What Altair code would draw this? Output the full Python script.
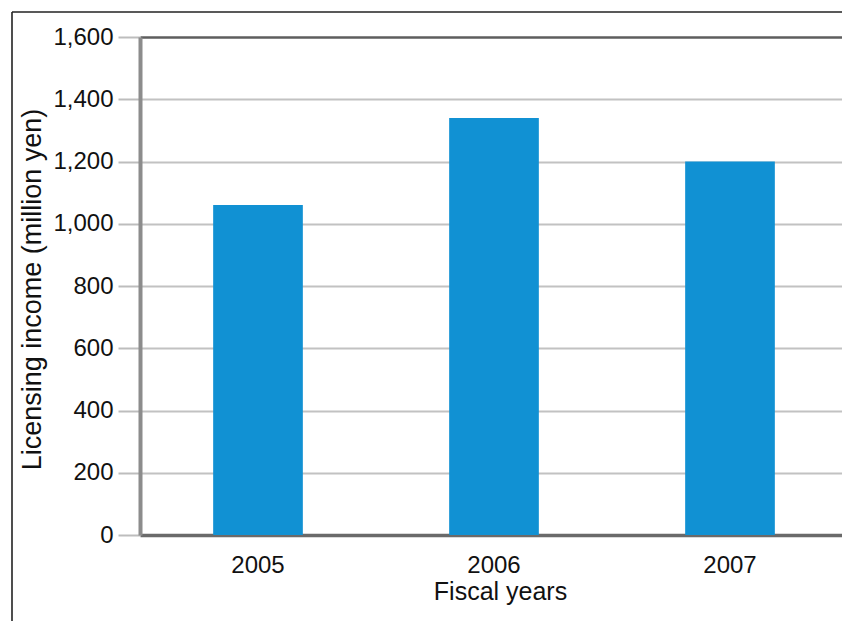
import altair as alt
import pandas as pd

# Licensing income by fiscal year (million yen)
years = ["2005", "2006", "2007"]
income = [1060, 1340, 1200]
y_ticks = [0, 200, 400, 600, 800, 1000, 1200, 1400, 1600]

df = pd.DataFrame({"year": years, "income": income})

FONT = "Liberation Sans"
BAR_BLUE = "#1191d3"

bars = alt.Chart(df).mark_bar(color=BAR_BLUE).encode(
    x=alt.X(
        "year:N",
        sort=years,
        scale=alt.Scale(paddingInner=0.62, paddingOuter=0.31),
        axis=alt.Axis(
            title="Fiscal years",
            labelAngle=0,
            labelFont=FONT,
            labelFontSize=24,
            labelColor="#111111",
            labelBaseline="alphabetic",
            labelPadding=37,
            ticks=False,
            tickSize=0,
            domainColor="#6a6a6a",
            domainWidth=3.5,
            grid=False,
            titleFont=FONT,
            titleFontSize=25,
            titleFontWeight="normal",
            titleColor="#111111",
            titleBaseline="alphabetic",
            titleX=360,
            titleY=64,
        ),
    ),
    y=alt.Y(
        "income:Q",
        scale=alt.Scale(domain=[0, 1600], nice=False),
        axis=alt.Axis(
            title="Licensing income (million yen)",
            values=y_ticks,
            format=",d",
            labelFont=FONT,
            labelFontSize=24,
            labelColor="#111111",
            labelPadding=5,
            tickSize=22,
            tickColor="#bdbdbd",
            tickWidth=2,
            domainColor="#8c8c8c",
            domainWidth=4,
            grid=True,
            gridColor=alt.condition("datum.value == 1600", alt.value("#5e5e5e"), alt.value("#c2c2c2")),
            gridWidth=alt.condition("datum.value == 1600", alt.value(2.5), alt.value(2)),
            titleFont=FONT,
            titleFontSize=27,
            titleFontWeight="normal",
            titleColor="#111111",
            titleAngle=-90,
            titleAlign="center",
            titleBaseline="alphabetic",
            titleX=-100,
            titleY=252,
        ),
    ),
)

# Outer frame: top and left edges of the figure box
frame_data = alt.Data(values=[{}])
frame_top = alt.Chart(frame_data).mark_rule(color="#222222", strokeWidth=1.6).encode(
    x=alt.value(-128), x2=alt.value(720), y=alt.value(-25)
)
frame_left = alt.Chart(frame_data).mark_rule(color="#222222", strokeWidth=1.6).encode(
    x=alt.value(-128), y=alt.value(-25), y2=alt.value(600)
)

# The plot area runs slightly past the right edge of the figure
chart = (
    alt.layer(bars, frame_top, frame_left)
    .properties(
        width=708,
        height=498,
        autosize=alt.AutoSizeParams(type="none"),
        padding={"left": 140, "top": 37, "right": -6, "bottom": 86},
        background="white",
    )
    .configure_view(stroke="white", strokeWidth=1)
)

chart.save("out.html", embed_options={"renderer": "svg", "actions": False})
